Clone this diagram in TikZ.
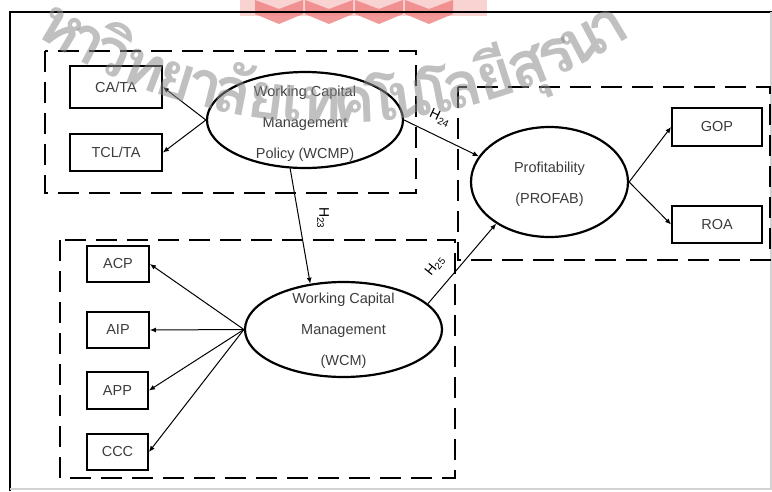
\documentclass[tikz,border=0pt]{standalone}
\usepackage{fontspec}
\setmainfont{Liberation Sans}
\newfontfamily\thaiwm[Script=Thai]{Loma}
\usetikzlibrary{shapes.geometric,arrows.meta}
\definecolor{ink}{HTML}{3C3C3C}
\definecolor{wmgray}{HTML}{8C8C8C}
\definecolor{logored}{HTML}{EE8080}
\definecolor{logopink}{HTML}{F9D2D2}

\begin{document}
\begin{tikzpicture}[x=1pt,y=-1pt,
  every node/.style={font=\fontsize{14.5}{31}\selectfont, text=ink},
  group/.style={draw, line width=2.6pt, dash pattern=on 21pt off 10pt},
  indicator/.style={draw, line width=1.8pt, inner sep=0pt},
  construct/.style={draw, ellipse, line width=2.2pt, inner sep=0pt},
  link/.style={line width=1pt, -{Latex[length=6pt,width=5pt]}},
  hyp/.style={font=\fontsize{14}{16}\selectfont, text=black, inner sep=1pt},
  wmchar/.style={font=\thaiwm\bfseries\fontsize{64}{64}\selectfont,
    text=wmgray, text opacity=.55, inner sep=0pt, anchor=base},
]
\useasboundingbox (0,0) rectangle (772,491);

% university mark at the top edge
\fill[logopink] (240,0) rectangle (487,16);
\foreach \x in {255,305,355,405}
  \fill[logored, opacity=.8] (\x,0) -- (\x+24,9) -- (\x+48,0) -- (\x+48,14)
    -- (\x+24,24) -- (\x,14) -- cycle;

% outer frame
\draw[line width=2pt] (10,491) -- (10,12) -- (772,12);
\draw[gray!35, line width=1.5pt] (771,12) -- (771,489) -- (10,489);

% dashed groups
\draw[group] (45,51) rectangle (416,193);
\draw[group] (458,87) rectangle (770,260);
\draw[group] (60,240) rectangle (455,478);

% indicators
\node[indicator, minimum width=92pt, minimum height=42pt] (cata)  at (116,87)    {CA/TA};
\node[indicator, minimum width=92pt, minimum height=37pt] (tclta) at (116,152.5) {TCL/TA};
\node[indicator, minimum width=62pt, minimum height=36pt] (acp) at (118,264)   {ACP};
\node[indicator, minimum width=62pt, minimum height=36pt] (aip) at (118,330)   {AIP};
\node[indicator, minimum width=61pt, minimum height=37pt] (app) at (117.5,390.5) {APP};
\node[indicator, minimum width=61pt, minimum height=36pt] (ccc) at (117.5,452) {CCC};
\node[indicator, minimum width=90pt, minimum height=38pt] (gop) at (717,127)   {GOP};
\node[indicator, minimum width=90pt, minimum height=37pt] (roa) at (717,224.5) {ROA};

% constructs
\node[construct, minimum width=196pt, minimum height=96pt]  (wcmp)   at (305,120)     {};
\node[construct, minimum width=197pt, minimum height=95pt]  (wcm)    at (343.5,329.5) {};
\node[construct, minimum width=157pt, minimum height=110pt] (profab) at (549.5,182)   {};
\node[align=center] (wcmp-text)   at (305,124)     {Working Capital\\Management\\Policy (WCMP)};
\node[align=center] (wcm-text)    at (343.5,331)   {Working Capital\\Management\\(WCM)};
\node[align=center] (profab-text) at (549.5,184.5) {Profitability\\(PROFAB)};

% measurement arrows
\draw[link] (wcmp.west) -- (cata.east);
\draw[link] (wcmp.west) -- (tclta.east);
\draw[link] (wcm.west) -- (acp.east);
\draw[link] (wcm.west) -- (aip.east);
\draw[link] (wcm.west) -- (app.east);
\draw[link] (wcm.west) -- (ccc.east);
\draw[link] (profab.east) -- (gop.west);
\draw[link] (profab.east) -- (roa.west);

% structural paths
\draw[link] (wcmp.east) -- (profab.160);
\draw[link] (wcm.17) -- (profab.218);
\draw[link] (wcmp.253) -- (wcm.126);
\node[hyp, rotate=-25] (h24) at (440,118) {H\textsubscript{24}};
\node[hyp, rotate=51]  (h25) at (435,266) {H\textsubscript{25}};
\node[hyp, rotate=-90] (h23) at (323,218) {H\textsubscript{23}};

% curved watermark text
\begin{scope}
  \clip (0,0) rectangle (772,491);
  \foreach \a/\g in {-30.8/ห, -27.7/า, -24.6/วิ, -20.9/ท, -17.2/ย,
      -14.1/า, -11.0/ลั, -7.3/ย, -4.4/เ, -1.4/ท, 2.2/ค, 5.2/โ, 8.1/น, 11.0/โ,
      14.0/ล, 17.6/ยี, 21.3/สุ, 24.6/ร, 27.9/น, 31.0/า}
    \node[wmchar, rotate=\a] at ({334+552*sin(\a)},{-429+552*cos(\a)}) {\g};
\end{scope}
\end{tikzpicture}
\end{document}
